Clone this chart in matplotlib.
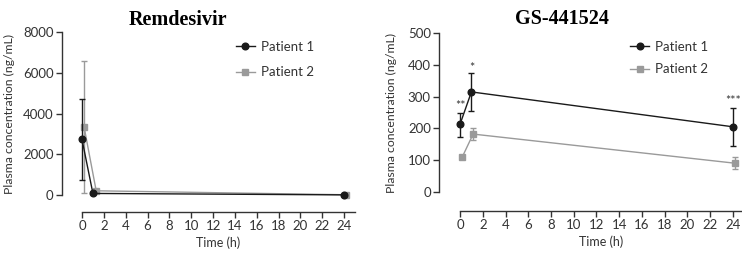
import numpy as np
import matplotlib
matplotlib.use("Agg")
import matplotlib.pyplot as plt
from matplotlib.lines import Line2D

# Remdesivir (left panel)
rem_t1 = [0.0, 1.0, 24.0]
rem_p1 = [2730, 80, 10]
rem_p1_lo = [1975, 0, 0]
rem_p1_hi = [1990, 0, 0]
rem_t2 = [0.2, 1.3, 24.2]
rem_p2 = [3320, 210, 15]
rem_p2_lo = [3240, 0, 0]
rem_p2_hi = [3280, 0, 0]

# GS-441524 (right panel)
gs_t1 = [0.0, 1.0, 24.0]
gs_p1 = [213, 315, 205]
gs_p1_lo = [39, 60, 60]
gs_p1_hi = [37, 60, 58]
gs_t2 = [0.2, 1.15, 24.2]
gs_p2 = [110, 182, 90]
gs_p2_lo = [0, 19, 19]
gs_p2_hi = [0, 19, 20]
gs_stars = ["**", "*", "***"]
gs_star_t = [0.0, 1.0, 24.0]
gs_star_y = [270, 392, 286]

plt.rcParams['font.family'] = ['Lato', 'DejaVu Sans']
dark = "#1a1a1a"
grey = "#9a9a9a"
tick_col = "#333333"

fig = plt.figure(figsize=(7.42, 2.54), dpi=100)


def style(ax, ymax, ystep, left_off, bottom_off, xmax):
    ax.spines['top'].set_visible(False)
    ax.spines['right'].set_visible(False)
    ax.spines['left'].set_position(('outward', left_off))
    ax.spines['bottom'].set_position(('outward', bottom_off))
    ax.spines['left'].set_bounds(0, ymax)
    for s in ['left', 'bottom']:
        ax.spines[s].set_color(tick_col)
        ax.spines[s].set_linewidth(1.0)
    ax.set_xlim(0, xmax)
    ax.set_ylim(0, ymax)
    ax.set_xticks(np.arange(0, 25, 2))
    ax.set_yticks(np.arange(0, ymax + 1, ystep))
    ax.tick_params(direction='out', length=4, width=1.0, colors=tick_col,
                   labelsize=9.5, labelcolor=tick_col, pad=2)
    ax.set_xlabel("Time (h)", fontsize=9, color=tick_col, labelpad=3)
    ax.set_ylabel("Plasma concentration (ng/mL)", fontsize=8.8, color=tick_col)


def draw(ax, t1, p1, lo1, hi1, t2, p2, lo2, hi2, anchor, spacing):
    ax.errorbar(t2, p2, yerr=[lo2, hi2], color=grey, marker='s', markersize=4.3,
                linewidth=1.0, capsize=2.5, elinewidth=1.0, capthick=1.0,
                clip_on=False, zorder=2)
    ax.errorbar(t1, p1, yerr=[lo1, hi1], color=dark, marker='o', markersize=4.8,
                linewidth=1.0, capsize=2.5, elinewidth=1.0, capthick=1.0,
                clip_on=False, zorder=3)
    handles = [Line2D([], [], color=dark, marker='o', markersize=4.8, linewidth=1.0),
               Line2D([], [], color=grey, marker='s', markersize=4.3, linewidth=1.0)]
    ax.legend(handles, ["Patient 1", "Patient 2"], loc='upper left',
              bbox_to_anchor=anchor, frameon=False, fontsize=9.5,
              handlelength=1.4, handletextpad=0.5, labelspacing=spacing,
              labelcolor=tick_col, borderaxespad=0)


ax1 = fig.add_axes([0.1105, 0.232, 0.368, 0.642])
style(ax1, 8000, 2000, 14.4, 12.2, 25)
draw(ax1, rem_t1, rem_p1, rem_p1_lo, rem_p1_hi, rem_t2, rem_p2, rem_p2_lo, rem_p2_hi,
     (0.545, 0.98), 1.05)
ax1.set_title("Remdesivir", fontsize=14.5, fontweight='bold', family='Liberation Serif',
              x=0.35, y=1.0, pad=5)
ax1.yaxis.set_label_coords(-0.245, 0.5)

ax2 = fig.add_axes([0.62, 0.245, 0.38, 0.624])
style(ax2, 500, 100, 15, 13.9, 24.8)
draw(ax2, gs_t1, gs_p1, gs_p1_lo, gs_p1_hi, gs_t2, gs_p2, gs_p2_lo, gs_p2_hi,
     (0.585, 0.985), 0.8)
for s, t, y in zip(gs_stars, gs_star_t, gs_star_y):
    ax2.text(t, y, s, ha='center', va='center', fontsize=9, color=tick_col)
ax2.set_title("GS-441524", fontsize=14.5, fontweight='bold', family='Liberation Serif',
              x=0.36, y=1.0, pad=7)
ax2.yaxis.set_label_coords(-0.225, 0.5)

fig.savefig("out.png", dpi=100)
